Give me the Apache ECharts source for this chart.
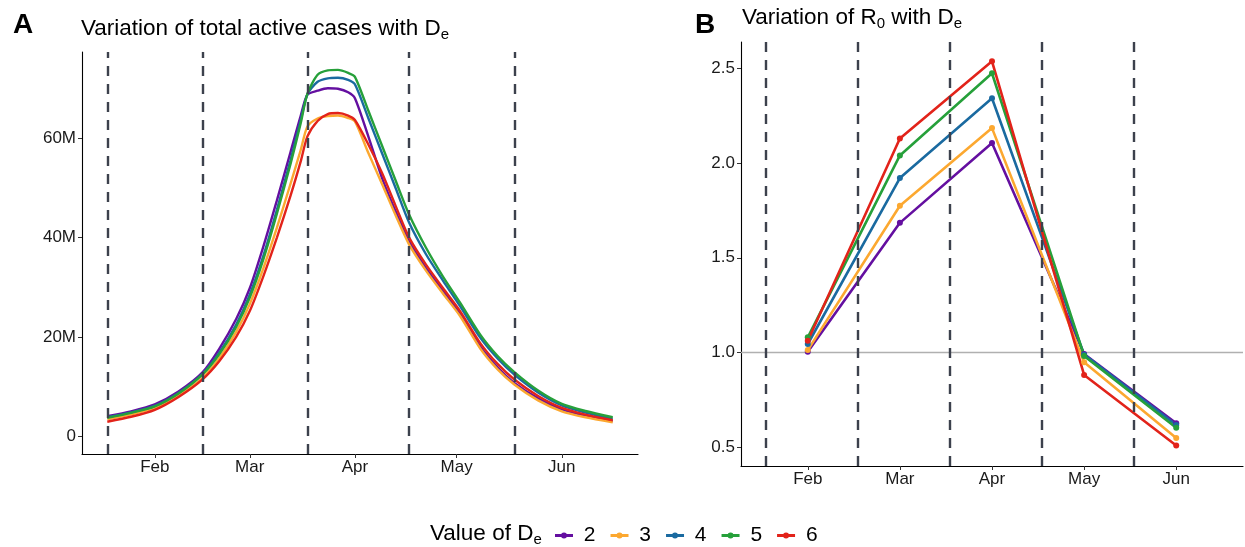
<!DOCTYPE html>
<html>
<head>
<meta charset="utf-8">
<script src="https://cdn.jsdelivr.net/npm/echarts@6/dist/echarts.min.js"></script>
<style>
  html, body { margin: 0; padding: 0; background: #fff; }
  #chart { width: 1245px; height: 547px; }
</style>
</head>
<body>
<div id="chart"></div>
<script>
// ---- panel A: total active cases (millions)
const dates = ['2021-01-18', '2021-01-25', '2021-02-01', '2021-02-08', '2021-02-15',
  '2021-02-20', '2021-02-25', '2021-03-01', '2021-03-05', '2021-03-09', '2021-03-13',
  '2021-03-16', '2021-03-18', '2021-03-21', '2021-03-24', '2021-03-27', '2021-03-30',
  '2021-04-01', '2021-04-05', '2021-04-09', '2021-04-13', '2021-04-17', '2021-04-22',
  '2021-04-27', '2021-05-02', '2021-05-08', '2021-05-13', '2021-05-18', '2021-05-25',
  '2021-06-01', '2021-06-08', '2021-06-16'];
const cases_2 = [4.0, 5.0, 6.4, 9.0, 12.8, 17.6, 23.6, 29.8, 38.2, 47.5, 57.2, 64.5, 68.8,
  69.6, 70.1, 70.0, 69.3, 68.1, 60.3, 52.0, 45.3, 39.2, 33.8, 29.2, 24.6, 18.0, 13.9, 10.7,
  7.6, 5.4, 4.1, 3.0];
const cases_3 = [3.4, 4.4, 5.7, 8.2, 11.7, 15.7, 21.0, 26.6, 33.8, 42.0, 50.8, 57.6, 62.4,
  64.0, 64.5, 64.6, 64.1, 63.4, 57.0, 50.8, 44.5, 38.6, 33.3, 28.7, 24.2, 17.6, 13.5, 10.4,
  7.2, 5.0, 3.8, 2.8];
const cases_4 = [3.8, 4.8, 6.1, 8.7, 12.5, 16.8, 22.5, 28.5, 36.3, 45.6, 55.6, 63.6, 68.9,
  71.4, 72.1, 72.2, 71.8, 70.9, 64.0, 57.0, 50.0, 43.0, 36.6, 31.3, 26.2, 19.8, 15.7, 12.4,
  8.8, 6.2, 4.75, 3.5];
const cases_5 = [3.7, 4.7, 6.0, 8.6, 12.4, 16.5, 22.0, 27.9, 35.6, 44.8, 54.8, 63.0, 69.0,
  72.8, 73.7, 73.8, 73.2, 72.4, 65.5, 58.5, 51.5, 44.6, 37.9, 32.1, 26.9, 20.4, 16.2, 12.9,
  9.2, 6.5, 5.06, 3.8];
const cases_6 = [2.9, 3.9, 5.3, 7.9, 11.4, 15.1, 20.0, 25.2, 32.2, 40.0, 48.4, 55.3, 60.4,
  63.5, 64.9, 65.1, 64.6, 63.7, 58.7, 53.0, 46.4, 40.0, 34.5, 29.8, 25.2, 18.7, 14.6, 11.4,
  8.1, 5.7, 4.35, 3.2];
const phaseDates = ['2021-01-18', '2021-02-15', '2021-03-18', '2021-04-17', '2021-05-18'];
const monthTickDates = ['2021-02-01', '2021-03-01', '2021-04-01', '2021-05-01', '2021-06-01'];
const monthLabels = ['Feb', 'Mar', 'Apr', 'May', 'Jun'];
const caseTicks = [0, 20, 40, 60];

// ---- panel B: R0 per month
const periods = [1, 2, 3, 4, 5];
const r0_2 = [1.005, 1.684, 2.105, 0.993, 0.628];
const r0_3 = [1.014, 1.774, 2.183, 0.950, 0.551];
const r0_4 = [1.046, 1.920, 2.340, 0.990, 0.619];
const r0_5 = [1.081, 2.039, 2.472, 0.983, 0.605];
const r0_6 = [1.063, 2.128, 2.535, 0.883, 0.511];
const periodBreaks = [0.54, 1.54, 2.54, 3.54, 4.54];
const r0Ticks = [0.5, 1.0, 1.5, 2.0, 2.5];

const deNames = ['2', '3', '4', '5', '6'];
const colors = ['#640fa0', '#fca830', '#1a6aa0', '#26a03a', '#e2231a'];
const casesAll = [cases_2, cases_3, cases_4, cases_5, cases_6];
const r0All = [r0_2, r0_3, r0_4, r0_5, r0_6];

const ts = d => Date.parse(d + 'T00:00:00Z');
const FONT = "'Liberation Sans', Arial, sans-serif";
const dash = { color: '#3c414d', width: 2.4, type: [10, 8] };
const axisLineStyle = { color: '#000', width: 1.1 };
const monthTicks = monthTickDates.map(ts);

const chart = echarts.init(document.getElementById('chart'));

const seriesA = casesAll.map((vals, i) => ({
  name: deNames[i],
  type: 'line',
  xAxisIndex: 0,
  yAxisIndex: 0,
  data: vals.map((v, j) => [ts(dates[j]), v]),
  showSymbol: false,
  symbol: 'none',
  smooth: 0.25,
  lineStyle: { width: 2.4, color: colors[i] },
  itemStyle: { color: colors[i] },
  markLine: i === casesAll.length - 1 ? {
    silent: true, symbol: ['none', 'none'], label: { show: false },
    lineStyle: dash, z: 5,
    data: phaseDates.map(d => ({ xAxis: ts(d) }))
  } : undefined
}));

const seriesB = r0All.map((vals, i) => ({
  name: deNames[i],
  type: 'line',
  xAxisIndex: 1,
  yAxisIndex: 1,
  data: vals.map((v, j) => [periods[j], v]),
  symbol: 'circle',
  symbolSize: 6,
  lineStyle: { width: 2.6, color: colors[i] },
  itemStyle: { color: colors[i] },
  markLine: i === r0All.length - 1 ? {
    silent: true, symbol: ['none', 'none'], label: { show: false },
    lineStyle: dash, z: 5,
    data: periodBreaks.map(x => ({ xAxis: x }))
  } : (i === 0 ? {
    silent: true, symbol: ['none', 'none'], label: { show: false },
    lineStyle: { color: '#b0b0b0', width: 1.3, type: 'solid' }, z: 1,
    data: [{ yAxis: 1 }]
  } : undefined)
}));

const axisText = { color: '#1a1a1a', fontSize: 17, fontFamily: FONT };
const subRich = size => ({
  m: { fontSize: size, fontFamily: FONT, fontWeight: 'normal', color: '#000', lineHeight: size + 5 },
  s: { fontSize: Math.round(size * 0.68), fontFamily: FONT, fontWeight: 'normal', color: '#000',
       lineHeight: Math.round(size * 0.68), verticalAlign: 'bottom' }
});

chart.setOption({
  animation: false,
  backgroundColor: '#fff',
  textStyle: { fontFamily: FONT },
  title: [
    { text: 'A', left: 13, top: 11, padding: 0,
      textStyle: { fontSize: 28, fontWeight: 'bold', color: '#000', fontFamily: FONT } },
    { text: '{m|Variation of total active cases with D}{s|e}', left: 81, top: 15, padding: 0,
      textStyle: { fontWeight: 'normal', rich: subRich(22.5) } },
    { text: 'B', left: 695, top: 11, padding: 0,
      textStyle: { fontSize: 28, fontWeight: 'bold', color: '#000', fontFamily: FONT } },
    { text: '{m|Variation of R}{s|0}{m| with D}{s|e}', left: 742, top: 4, padding: 0,
      textStyle: { fontWeight: 'normal', rich: subRich(22.5) } },
    { text: '{m|Value of D}{s|e}', left: 430, top: 520, padding: 0,
      textStyle: { fontWeight: 'normal', rich: subRich(22.5) } }
  ],
  legend: {
    data: deNames,
    left: 555, top: 525, padding: 0,
    itemWidth: 18, itemHeight: 6, itemGap: 15,
    icon: 'path://M0,3H18V6H0Z M9,1.5A3,3 0 1,1 8.999,1.5Z',
    formatter: name => ' ' + name,
    textStyle: { fontSize: 21, color: '#000', fontFamily: FONT }
  },
  grid: [
    { left: 82, top: 52, width: 556, height: 402 },
    { left: 741, top: 42, width: 502, height: 424 }
  ],
  xAxis: [
    {
      type: 'value', gridIndex: 0,
      min: Date.parse('2021-01-10T13:00:00Z'), max: Date.parse('2021-06-23T11:00:00Z'),
      axisLine: { onZero: false, lineStyle: axisLineStyle },
      axisTick: { show: true, length: 4, lineStyle: { color: '#333' }, customValues: monthTicks },
      axisLabel: Object.assign({ margin: 5, customValues: monthTicks,
        formatter: v => monthLabels[monthTicks.indexOf(v)] }, axisText),
      splitLine: { show: false }
    },
    {
      type: 'value', gridIndex: 1, min: 0.275, max: 5.725,
      axisLine: { onZero: false, lineStyle: axisLineStyle },
      axisTick: { show: true, length: 4, lineStyle: { color: '#333' }, customValues: periods },
      axisLabel: Object.assign({ margin: 5, customValues: periods,
        formatter: v => monthLabels[periods.indexOf(v)] }, axisText),
      splitLine: { show: false }
    }
  ],
  yAxis: [
    {
      type: 'value', gridIndex: 0, min: -3.6, max: 77.4,
      axisLine: { show: true, onZero: false, lineStyle: axisLineStyle },
      axisTick: { show: true, length: 4, lineStyle: { color: '#333' }, customValues: caseTicks },
      axisLabel: Object.assign({ margin: 6, customValues: caseTicks,
        formatter: v => (v === 0 ? '0' : v + 'M') }, axisText),
      splitLine: { show: false }
    },
    {
      type: 'value', gridIndex: 1, min: 0.4035, max: 2.6365,
      axisLine: { show: true, onZero: false, lineStyle: axisLineStyle },
      axisTick: { show: true, length: 4, lineStyle: { color: '#333' }, customValues: r0Ticks },
      axisLabel: Object.assign({ margin: 6, customValues: r0Ticks,
        formatter: v => v.toFixed(1) }, axisText),
      splitLine: { show: false }
    }
  ],
  series: seriesA.concat(seriesB)
});
</script>
</body>
</html>
